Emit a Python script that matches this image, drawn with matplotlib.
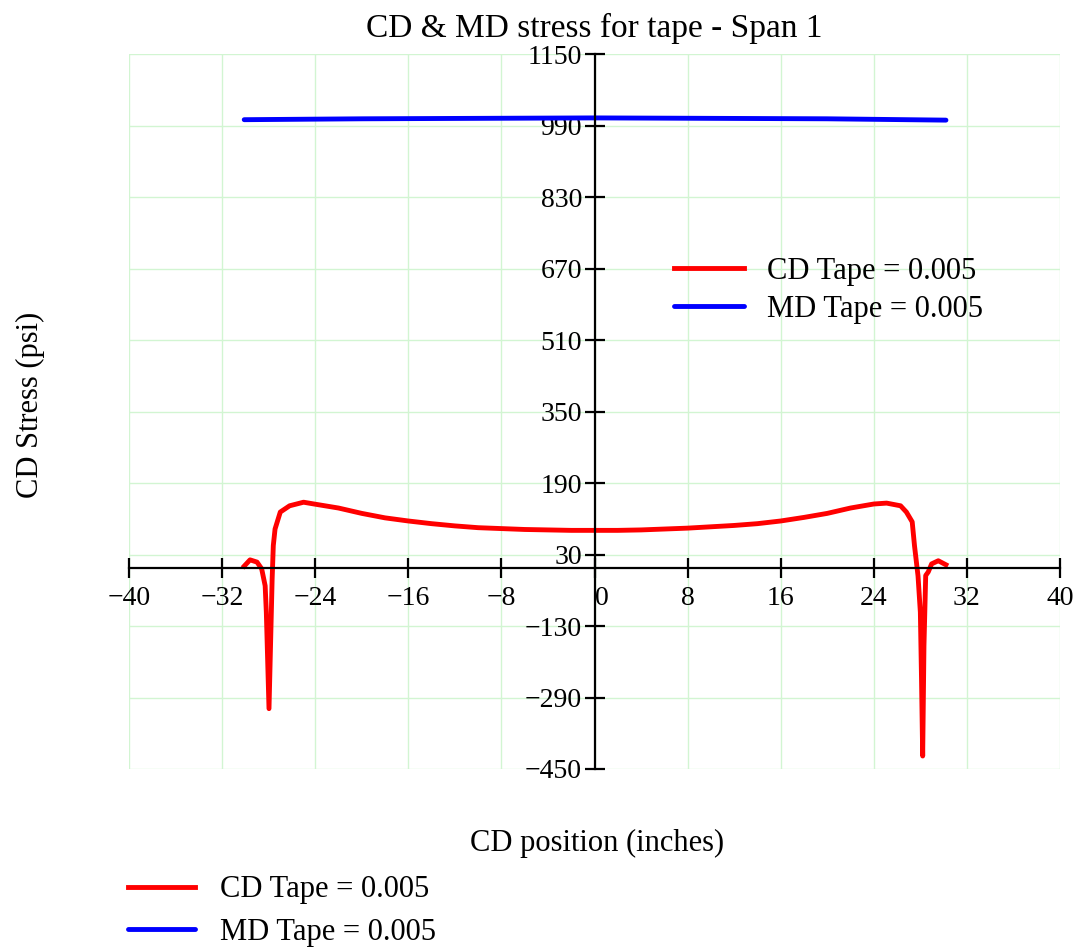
import numpy as np
import matplotlib.pyplot as plt
import matplotlib as mpl

mpl.rcParams['font.family'] = ['Liberation Serif', 'DejaVu Serif']
mpl.rcParams['font.size'] = 20

# CD stress along the span (inches, psi)
cd_x = [-30.1, -29.6, -29.0, -28.6, -28.3, -28.2, -27.97, -27.7, -27.6, -27.45,
        -27.0, -26.2, -25.0, -24.1, -22.0, -20.0, -18.0, -16.0, -14.0, -12.0,
        -10.0, -8.0, -6.0, -4.0, -2.0, 0.0, 2.0, 4.0, 6.0, 8.0,
        10.0, 12.0, 14.0, 16.0, 18.0, 20.0, 22.0, 24.0, 25.1, 26.3,
        26.8, 27.3, 27.5, 27.8, 28.0, 28.1, 28.2, 28.31, 28.46, 28.68,
        28.97, 29.54, 30.2]
cd_y = [4, 18, 13, -2, -40, -99, -315, -25, 50, 87,
        125, 139, 147, 143, 134, 122, 112, 105, 99, 94,
        90, 88, 86, 85, 84, 84, 84, 85, 87, 89,
        92, 95, 99, 105, 113, 122, 134, 143, 145, 139,
        125, 103, 49, -18, -99, -248, -421, -175, -17, -9,
        9, 16, 7]

# MD stress
md_x = [-30.1, -20.0, -10.0, 0.0, 10.0, 20.0, 30.2]
md_y = [1003, 1005, 1006, 1007, 1006, 1005, 1002]

xticks = np.arange(-40, 41, 8)
yticks = np.arange(-450, 1151, 160)

fig = plt.figure(figsize=(10.83, 9.48), dpi=100)
ax = fig.add_axes([129/1083, 1-769/948, 931/1083, 715/948])

l1, = ax.plot(cd_x, cd_y, color='#ff0000', lw=3.5, label='CD Tape = 0.005', solid_joinstyle='round')
l2, = ax.plot(md_x, md_y, color='#0000ff', lw=3.5, label='MD Tape = 0.005', solid_capstyle='round')

ax.set_xlim(-40, 40)
ax.set_ylim(-450, 1150)
ax.set_xticks(xticks)
ax.set_yticks(yticks)
ax.grid(True, color='#d2f5d2', lw=1)
ax.set_axisbelow(True)

for s in ['top', 'right']:
    ax.spines[s].set_visible(False)
ax.spines['left'].set_position(('data', 0))
ax.spines['bottom'].set_position(('data', 0))
ax.spines['left'].set_linewidth(1.6)
ax.spines['bottom'].set_linewidth(1.6)
ax.tick_params(direction='inout', length=14, width=1.6)
ax.tick_params(axis='x', pad=6)
ax.tick_params(axis='y', pad=2)
ax.set_xticklabels([str(v).replace('-', '\u2212') for v in xticks])
ax.set_yticklabels([str(v).replace('-', '\u2212') for v in yticks])
for lab in ax.get_xticklabels():
    if lab.get_text() == '0':
        lab.set_horizontalalignment('left')

ax.set_title('CD & MD stress for tape - Span 1', pad=12)
fig.text(597/1083, 1-843/948, 'CD position (inches)', ha='center', va='center', fontsize=22)
fig.text(30/1083, 1-405/948, 'CD Stress (psi)', ha='center', va='center', rotation=90, fontsize=22)

ax.legend(handles=[l1, l2], loc='upper left', bbox_to_anchor=(0.556, 0.755), frameon=False,
          fontsize=22, handlelength=2.3, handletextpad=0.75, labelspacing=0.3)
fig.legend(handles=[l1, l2], loc='lower left', bbox_to_anchor=(0.093, -0.028), frameon=False,
           fontsize=22, handlelength=2.2, handletextpad=0.8, labelspacing=0.45)

fig.savefig('out.png', dpi=100)
